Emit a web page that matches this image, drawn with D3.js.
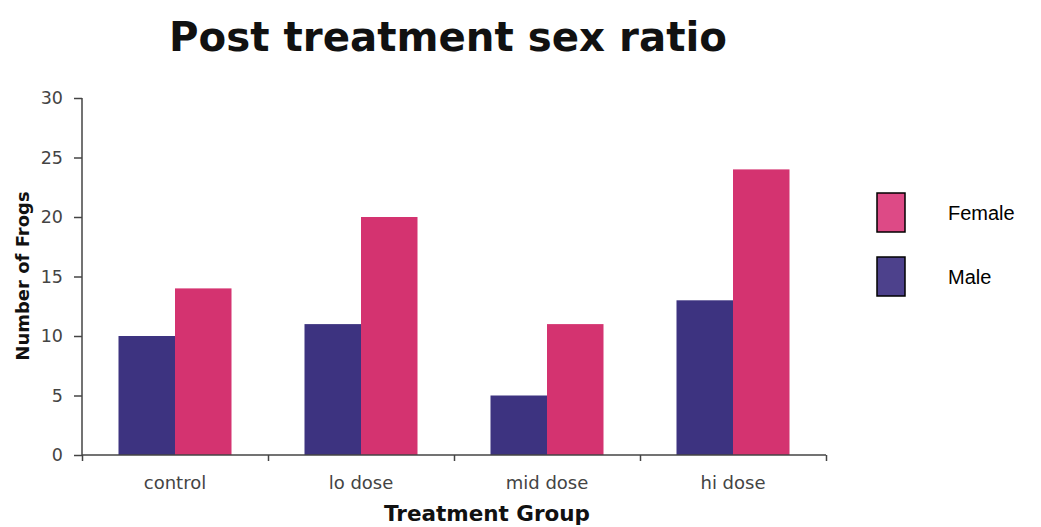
<!DOCTYPE html>
<html><head><meta charset="utf-8">
<script src="https://cdn.jsdelivr.net/npm/d3@7"></script>
<style>body{margin:0;background:#fff}</style>
</head><body>
<svg id="c" width="1041" height="527"></svg>
<script>
const categories = ["control", "lo dose", "mid dose", "hi dose"];
const series = ["Male", "Female"];
const maleValues = [10, 11, 5, 13];
const femaleValues = [14, 20, 11, 24];
const yTicks = [0, 5, 10, 15, 20, 25, 30];
const legendOrder = ["Female", "Male"];

const barColors = {Male: "#3d3380", Female: "#d43370"};
const legendColors = {Male: "#4d418c", Female: "#dd4a86"};
const values = {Male: maleValues, Female: femaleValues};

const svg = d3.select("#c");
const x0 = d3.scaleBand().domain(categories).range([82, 826]).padding(0);
const x1 = d3.scaleBand().domain(series).range([0, x0.bandwidth()]).paddingInner(0).paddingOuter(0.646);
const y = d3.scaleLinear().domain([0, 30]).range([455, 98]);

// title
svg.append("text").attr("x", 448).attr("y", 51).attr("text-anchor", "middle")
  .attr("font-family", "DejaVu Sans").attr("font-weight", "bold").attr("font-size", 40.3)
  .attr("fill", "#111").text("Post treatment sex ratio");

// bars
categories.forEach((c, i) => {
  series.forEach(s => {
    svg.append("rect")
      .attr("x", x0(c) + x1(s)).attr("width", x1.bandwidth())
      .attr("y", y(values[s][i])).attr("height", y(0) - y(values[s][i]))
      .attr("fill", barColors[s]);
  });
});

// y axis
const yAxis = svg.append("g").attr("transform", "translate(82,0)")
  .call(d3.axisLeft(y).tickValues(yTicks).tickSize(8).tickPadding(11));
yAxis.selectAll("text").attr("font-family", "DejaVu Sans").attr("font-size", 17.5).attr("fill", "#444");
yAxis.selectAll("line,path").attr("stroke", "#444").attr("stroke-width", 1.5);
yAxis.select("path").attr("d", "M0,98V455");

// x axis
const xTickScale = d3.scaleLinear().domain([0, 4]).range([82, 826]);
const xAxis = svg.append("g").attr("transform", "translate(0,455)")
  .call(d3.axisBottom(xTickScale).tickValues([0,1,2,3,4]).tickSize(6).tickFormat(""));
xAxis.selectAll("line,path").attr("stroke", "#444").attr("stroke-width", 1.5);
xAxis.select("path").attr("d", "M82,0H826");

svg.selectAll(".xl").data(categories).enter().append("text")
  .attr("x", d => x0(d) + x0.bandwidth() / 2).attr("y", 489)
  .attr("text-anchor", "middle").attr("font-family", "DejaVu Sans").attr("font-size", 18)
  .attr("fill", "#444").text(d => d);

svg.append("text").attr("x", 487).attr("y", 521).attr("text-anchor", "middle")
  .attr("font-family", "DejaVu Sans").attr("font-weight", "bold").attr("font-size", 21.5)
  .attr("fill", "#111").text("Treatment Group");

svg.append("text").attr("transform", "translate(29,276) rotate(-90)").attr("text-anchor", "middle")
  .attr("font-family", "DejaVu Sans").attr("font-weight", "bold").attr("font-size", 18)
  .attr("fill", "#111").text("Number of Frogs");

// legend
const lg = svg.append("g");
legendOrder.forEach((s, i) => {
  const yy = 193 + i * 64;
  lg.append("rect").attr("x", 877).attr("y", yy).attr("width", 28).attr("height", 39)
    .attr("fill", legendColors[s]).attr("stroke", "#000").attr("stroke-width", 1.5);
  lg.append("text").attr("x", 948).attr("y", yy + 27).attr("font-family", "Liberation Sans, Arial")
    .attr("font-size", 20).attr("fill", "#000").text(s);
});
</script>
</body></html>
